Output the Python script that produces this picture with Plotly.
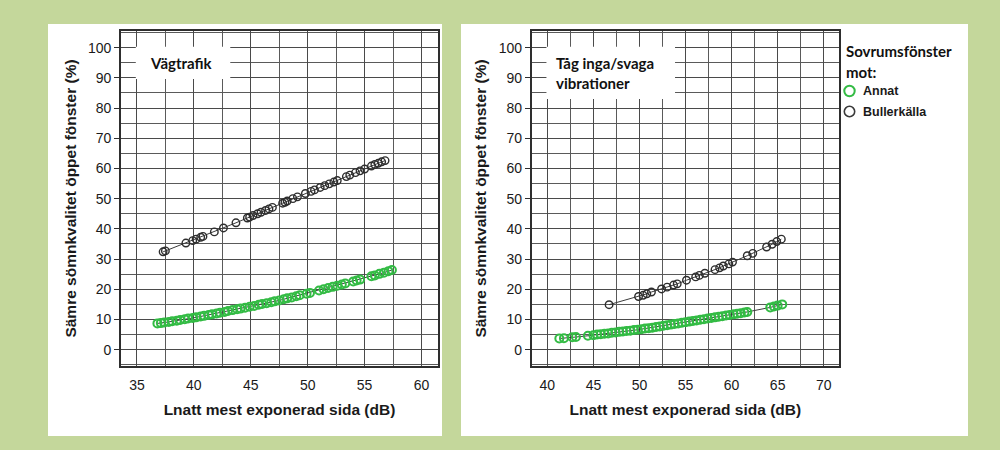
import plotly.graph_objects as go

# ---- Vägtrafik panel ----
road_annat_x = [36.8, 37.1, 37.4, 37.8, 38.1, 38.5, 38.8, 39.2, 39.5, 39.9, 40.2, 40.6, 40.9,
                41.3, 41.6, 42.0, 42.3, 42.7, 43.0, 43.4, 43.8, 44.1, 44.5, 44.9, 45.3, 45.7,
                46.0, 46.4, 46.8, 47.1, 47.5, 47.9, 48.2, 48.6, 49.0, 49.3, 49.9, 50.2, 51.0,
                51.4, 51.8, 52.2, 52.6, 53.0, 53.3, 54.0, 54.3, 54.6, 55.6, 55.9, 56.3, 56.7,
                57.1, 57.4]
road_annat_y = [8.7, 8.8, 9.0, 9.2, 9.4, 9.6, 9.8, 10.1, 10.3, 10.5, 10.7, 11.0, 11.2,
                11.5, 11.7, 12.0, 12.2, 12.5, 12.8, 13.1, 13.4, 13.6, 13.9, 14.2, 14.5, 14.9,
                15.1, 15.4, 15.7, 16.0, 16.3, 16.7, 17.0, 17.3, 17.7, 18.0, 18.5, 18.8, 19.6,
                20.0, 20.4, 20.8, 21.2, 21.6, 21.9, 22.6, 22.9, 23.2, 24.3, 24.6, 25.1, 25.5,
                26.0, 26.4]
road_buller_x = [37.3, 37.5, 39.3, 39.9, 40.2, 40.6, 40.8, 41.8, 42.6, 43.7, 44.7, 44.9, 45.2,
                 45.6, 45.9, 46.3, 46.6, 46.9, 47.8, 48.0, 48.2, 48.7, 49.1, 49.8, 50.3, 50.6,
                 51.1, 51.5, 51.9, 52.3, 52.6, 53.4, 53.7, 54.2, 54.6, 55.0, 55.6, 55.9, 56.2,
                 56.5, 56.8]
road_buller_y = [32.4, 32.7, 35.3, 36.1, 36.6, 37.2, 37.5, 39.0, 40.3, 42.0, 43.6, 43.9, 44.4,
                 45.0, 45.5, 46.1, 46.6, 47.1, 48.5, 48.8, 49.2, 50.0, 50.6, 51.7, 52.4, 52.9,
                 53.7, 54.3, 54.9, 55.5, 56.0, 57.3, 57.8, 58.6, 59.2, 59.8, 60.8, 61.3, 61.7,
                 62.2, 62.6]

# ---- Tåg panel ----
train_annat_x = [41.3, 41.8, 42.7, 43.1, 44.4, 45.0, 45.4, 45.8, 46.2, 46.6, 47.0, 47.4, 47.8,
                 48.2, 48.6, 49.0, 49.4, 49.8, 50.2, 50.6, 51.0, 51.4, 51.8, 52.2, 52.6, 53.0,
                 53.4, 53.8, 54.2, 54.6, 55.0, 55.4, 55.8, 56.2, 56.6, 57.0, 57.4, 57.8, 58.2,
                 58.6, 59.0, 59.4, 59.8, 60.2, 60.6, 61.0, 61.4, 61.7, 64.2, 64.6, 65.0, 65.5]
train_annat_y = [3.7, 3.8, 4.1, 4.2, 4.6, 4.8, 5.0, 5.1, 5.3, 5.4, 5.6, 5.7, 5.9,
                 6.0, 6.2, 6.3, 6.5, 6.6, 6.8, 7.0, 7.1, 7.3, 7.5, 7.7, 7.9, 8.1,
                 8.3, 8.5, 8.7, 8.9, 9.1, 9.3, 9.5, 9.7, 9.9, 10.1, 10.3, 10.5, 10.7,
                 10.9, 11.1, 11.3, 11.5, 11.7, 11.9, 12.1, 12.3, 12.5, 14.0, 14.3, 14.6, 15.0]
train_buller_x = [46.7, 49.9, 50.4, 50.8, 51.3, 52.4, 53.0, 53.7, 54.1, 55.1, 56.1, 56.5, 57.1,
                  58.2, 58.7, 59.1, 59.7, 60.1, 61.7, 62.3, 63.8, 64.4, 64.9, 65.4]
train_buller_y = [14.9, 17.6, 18.0, 18.5, 19.1, 20.1, 20.7, 21.4, 21.8, 23.0, 24.1, 24.6, 25.3,
                  26.5, 27.1, 27.7, 28.4, 29.0, 31.1, 31.9, 34.0, 34.9, 35.8, 36.6]

x_ticks_road = [35, 40, 45, 50, 55, 60]
x_ticks_train = [40, 45, 50, 55, 60, 65, 70]
y_ticks = [0, 10, 20, 30, 40, 50, 60, 70, 80, 90, 100]

GREEN = "#33bb44"
DARK = "#2e2e2e"
BG = "#c4d79b"
LINE = "#3c3c3c"

fig = go.Figure()


def add_series(x, y, color, xa, ya, name):
    is_green = color == GREEN
    fig.add_trace(go.Scatter(
        x=x, y=y, mode="lines+markers", name=name, showlegend=False,
        xaxis=xa, yaxis=ya,
        line=dict(color=LINE, width=1),
        marker=dict(symbol="circle-open", size=8 if is_green else 7.5, color=color,
                    line=dict(width=2 if is_green else 1.4)),
    ))


add_series(road_annat_x, road_annat_y, GREEN, "x", "y", "Annat")
add_series(road_buller_x, road_buller_y, DARK, "x", "y", "Bullerkälla")
add_series(train_annat_x, train_annat_y, GREEN, "x2", "y2", "Annat")
add_series(train_buller_x, train_buller_y, DARK, "x2", "y2", "Bullerkälla")

tick_font = dict(family="Liberation Sans, Arial, sans-serif", size=14, color="#1a1a1a")
title_font = dict(family="Liberation Sans, Arial, sans-serif", size=15.5, color="#1a1a1a")
Y_TITLE = "<b>Sämre sömnkvalitet öppet fönster (%)</b>"
X_TITLE = "<b>Lnatt mest exponerad sida (dB)</b>"

y_common = dict(
    range=[-5.4, 105.5], tickmode="array", tickvals=y_ticks,
    ticks="outside", ticklen=5, tickwidth=1.2, tickcolor=DARK,
    showgrid=True, gridcolor="#4a4a4a", gridwidth=1.4,
    minor=dict(dtick=5, tick0=0, showgrid=True, gridcolor="#5a5a5a", gridwidth=1.2),
    showline=True, linecolor=DARK, linewidth=1.6, mirror=True,
    zeroline=False, tickfont=tick_font,
    title=dict(text=Y_TITLE, font=title_font, standoff=8),
)
x_common = dict(
    ticks="outside", ticklen=5, tickcolor="rgba(0,0,0,0)",
    showgrid=True, gridcolor="#4a4a4a", gridwidth=1.4,
    minor=dict(dtick=2.5, tick0=0, showgrid=True, gridcolor="#5a5a5a", gridwidth=1.2),
    showline=True, linecolor=DARK, linewidth=1.6, mirror=True,
    zeroline=False, tickfont=tick_font,
    title=dict(text=X_TITLE, font=title_font, standoff=13),
)

fig.update_layout(
    width=1000, height=450,
    margin=dict(l=0, r=0, t=0, b=0),
    paper_bgcolor=BG, plot_bgcolor="white",
    showlegend=False,
    xaxis=dict(domain=[0.121, 0.438], range=[33.6, 61.45], tickmode="array",
               tickvals=x_ticks_road, anchor="y", **x_common),
    yaxis=dict(domain=[1 - 366 / 450, 1 - 31 / 450], anchor="x", **y_common),
    xaxis2=dict(domain=[0.5317, 0.839], range=[38.3, 71.66], tickmode="array",
                tickvals=x_ticks_train, anchor="y2", **x_common),
    yaxis2=dict(domain=[1 - 366 / 450, 1 - 31 / 450], anchor="x2", **y_common),
)

shapes = [
    # white panels on the green page
    dict(type="rect", xref="paper", yref="paper", x0=0.048, x1=0.442,
         y0=1 - 436 / 450, y1=1 - 24 / 450, fillcolor="white", line=dict(width=0), layer="below"),
    dict(type="rect", xref="paper", yref="paper", x0=0.461, x1=0.968,
         y0=1 - 436 / 450, y1=1 - 24 / 450, fillcolor="white", line=dict(width=0), layer="below"),
    # label boxes inside the plots
    dict(type="rect", xref="x", yref="y", x0=34.9, x1=43.2, y0=89.6, y1=100.3,
         fillcolor="white", line=dict(width=0), layer="above"),
    dict(type="rect", xref="x2", yref="y2", x0=39.9, x1=53.86, y0=83.0, y1=100.3,
         fillcolor="white", line=dict(width=0), layer="above"),
    # legend symbols
    dict(type="circle", xref="paper", yref="paper", xsizemode="pixel", ysizemode="pixel",
         xanchor=0.8495, yanchor=1 - 91 / 450, x0=-5.2, x1=5.2, y0=-5.2, y1=5.2,
         fillcolor="white", line=dict(color=GREEN, width=2)),
    dict(type="circle", xref="paper", yref="paper", xsizemode="pixel", ysizemode="pixel",
         xanchor=0.8495, yanchor=1 - 111.5 / 450, x0=-5.2, x1=5.2, y0=-5.2, y1=5.2,
         fillcolor="white", line=dict(color="#3a3a3a", width=1.6)),
]
fig.update_layout(shapes=shapes)

label_font = dict(family="Lato, Open Sans, sans-serif", size=15, color="#111111")
item_font = dict(family="Liberation Sans, Arial, sans-serif", size=12.5, color="#1a1a1a")

annotations = [
    dict(text="<b>Vägtrafik</b>", xref="x", yref="y", x=36.0, y=94.9,
         xanchor="left", yanchor="middle", showarrow=False, font=label_font, align="left"),
    dict(text="<b>Tåg inga/svaga<br>vibrationer</b>", xref="x2", yref="y2", x=40.7, y=91.6,
         xanchor="left", yanchor="middle", showarrow=False, font=label_font, align="left"),
    dict(text="<b>Sovrumsfönster</b>", xref="paper", yref="paper", x=0.844, y=1 - 51 / 450,
         xanchor="left", yanchor="middle", showarrow=False, font=label_font),
    dict(text="<b>mot:</b>", xref="paper", yref="paper", x=0.844, y=1 - 72 / 450,
         xanchor="left", yanchor="middle", showarrow=False, font=label_font),
    dict(text="<b>Annat</b>", xref="paper", yref="paper", x=0.861, y=1 - 91 / 450,
         xanchor="left", yanchor="middle", showarrow=False, font=item_font),
    dict(text="<b>Bullerkälla</b>", xref="paper", yref="paper", x=0.861, y=1 - 111.5 / 450,
         xanchor="left", yanchor="middle", showarrow=False, font=item_font),
]
fig.update_layout(annotations=annotations)

fig.write_html("out.html")
